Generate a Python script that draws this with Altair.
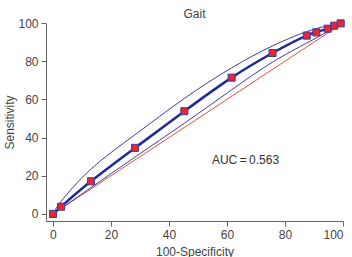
import altair as alt
import pandas as pd

# Operating points (100-Specificity, Sensitivity)
pt_x = [0, 2.8, 13.1, 28.3, 45.3, 61.6, 75.7, 87.5, 90.8, 94.7, 97.0, 99.2]
pt_y = [0, 3.8, 17.1, 34.6, 53.8, 71.4, 84.3, 93.4, 95.1, 97.0, 98.6, 99.8]

# Fitted ROC curve and confidence bands
fit_x = [0, 2.8, 13.1, 28.3, 45.3, 61.6, 75.7, 87.5, 94.7, 100]
fit_y = [0, 3.8, 17.1, 34.6, 53.8, 71.4, 84.3, 93.4, 97.0, 100]
up_y = [0, 6.5, 23.5, 41.5, 60.5, 76.5, 88.0, 95.5, 98.5, 100]
low_y = [0, 2.9, 13.8, 29.8, 47.5, 65.0, 79.5, 89.5, 95.5, 100]

diag = [0, 100]

font = "Liberation Sans"

pts = pd.DataFrame({"x": pt_x, "y": pt_y})
fit = pd.DataFrame({"x": fit_x, "y": fit_y, "up": up_y, "low": low_y})
dg = pd.DataFrame({"x": diag, "y": diag})

xs = alt.Scale(domain=[-2.4, 100], nice=False, zero=False)
ys = alt.Scale(domain=[-3.7, 100], nice=False, zero=False)
ticks = [0, 20, 40, 60, 80, 100]

xax = alt.Axis(values=ticks, title="100-Specificity", grid=False, titlePadding=6, labelOverlap=False)
yax = alt.Axis(values=ticks, title="Sensitivity", grid=False, titlePadding=1, labelOverlap=False)


def X(f):
    return alt.X(f, type="quantitative", scale=xs, axis=xax)


def Y(f):
    return alt.Y(f, type="quantitative", scale=ys, axis=yax)


base = alt.Chart(fit)

diag_line = alt.Chart(dg).mark_line(color="#e8503a", strokeWidth=1).encode(x=X("x"), y=Y("y"))
upper = base.mark_line(color="#3c3ca8", strokeWidth=1, interpolate="natural").encode(x=X("x"), y=Y("up"))
lower = base.mark_line(color="#3c3ca8", strokeWidth=1, interpolate="natural").encode(x=X("x"), y=Y("low"))
central = base.mark_line(color="#1e2a94", strokeWidth=2.5, interpolate="natural").encode(x=X("x"), y=Y("y"))
points = alt.Chart(pts).mark_square(
    size=50, color="#e8262b", opacity=1, stroke="#3c3ca8", strokeWidth=1
).encode(x=X("x"), y=Y("y"))

auc = alt.Chart(pd.DataFrame({"x": [54.8], "y": [28.3], "t": ["AUC\u2009=\u20090.563"]})).mark_text(
    align="left", baseline="middle", fontSize=12, font=font, color="#333"
).encode(x=X("x"), y=Y("y"), text="t:N")

chart = alt.layer(diag_line, upper, lower, central, points, auc).properties(
    width=297,
    height=198,
    autosize=alt.AutoSizeParams(type="none"),
    padding={"left": 46, "top": 23, "right": 9, "bottom": 36},
    title=alt.TitleParams("Gait", fontSize=12, font=font, fontWeight="normal", color="#444", offset=-4),
).configure_view(stroke=None).configure_axis(
    domainColor="#666",
    tickColor="#666",
    tickSize=5,
    labelFont=font,
    labelFontSize=12,
    labelColor="#444",
    labelOverlap=False,
    titleFont=font,
    titleFontSize=12,
    titleFontWeight="normal",
    titleColor="#444",
    labelPadding=3,
)

chart.save("out.html", embed_options={"renderer": "svg", "actions": False})
